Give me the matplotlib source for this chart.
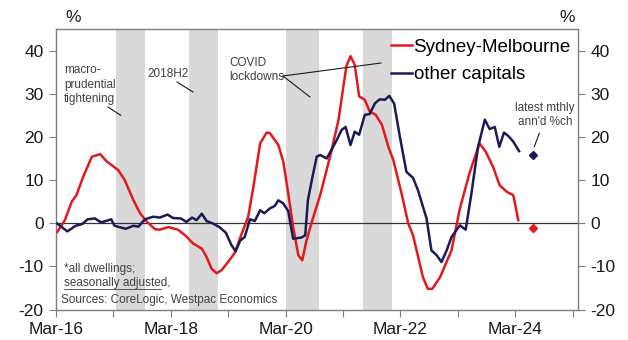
import matplotlib
matplotlib.use("Agg")
import matplotlib.pyplot as plt
import pandas as pd

plt.rcParams['font.family'] = ['Liberation Sans', 'DejaVu Sans']

# Annual house price growth, % (all dwellings, seasonally adjusted)
syd_mel_dates = [
    "2016-03-09", "2016-04-26", "2016-06-09", "2016-07-09", "2016-08-21", "2016-10-15",
    "2016-12-07", "2017-01-18", "2017-04-01", "2017-05-12", "2017-07-07", "2017-08-18",
    "2017-10-01", "2017-11-21", "2017-12-21", "2018-02-15", "2018-04-15", "2018-06-01",
    "2018-07-21", "2018-09-15", "2018-10-15", "2018-11-15", "2018-12-18", "2019-01-18",
    "2019-03-01", "2019-04-12", "2019-05-23", "2019-07-07", "2019-08-09", "2019-09-21",
    "2019-11-01", "2019-11-21", "2020-01-15", "2020-02-15", "2020-03-18", "2020-04-18",
    "2020-05-21", "2020-06-15", "2020-07-12", "2020-08-15", "2020-10-07", "2020-12-09",
    "2021-02-01", "2021-03-23", "2021-04-18", "2021-05-15", "2021-06-12", "2021-07-18",
    "2021-08-18", "2021-09-26", "2021-11-04", "2021-12-15", "2022-01-15", "2022-03-09",
    "2022-04-21", "2022-05-21", "2022-07-23", "2022-08-23", "2022-09-21", "2022-11-09",
    "2023-01-21", "2023-03-15", "2023-05-18", "2023-07-18", "2023-08-26", "2023-10-12",
    "2023-11-23", "2024-01-07", "2024-02-18", "2024-03-21",
]
syd_mel_values = [
    -2.0, 0.7, 5.0, 6.5, 10.8, 15.4,
    16.0, 14.3, 12.3, 10.0, 5.3, 2.3,
    0.3, -1.4, -1.5, -0.9, -1.5, -2.8,
    -4.7, -5.9, -7.8, -10.5, -11.6, -10.9,
    -9.0, -6.9, -2.8, 1.5, 8.4, 18.5,
    21.0, 20.9, 18.1, 14.3, 6.9, -0.9,
    -7.4, -8.6, -4.0, 0.3, 6.5, 15.4,
    24.0, 36.4, 38.7, 36.7, 29.4, 28.6,
    25.9, 25.1, 22.8, 17.7, 14.7, 6.9,
    -0.1, -2.8, -12.5, -15.2, -15.2, -12.5,
    -6.3, 3.4, 11.9, 18.5, 16.6, 13.1,
    8.8, 7.3, 6.5, 0.7,
]

other_dates = [
    "2016-03-09", "2016-05-12", "2016-07-04", "2016-08-15", "2016-09-18", "2016-11-04",
    "2016-12-07", "2016-12-26", "2017-02-15", "2017-03-09", "2017-05-18", "2017-07-07",
    "2017-08-07", "2017-09-18", "2017-11-09", "2017-12-21", "2018-02-09", "2018-03-15",
    "2018-05-04", "2018-06-09", "2018-07-15", "2018-08-12", "2018-09-15", "2018-10-15",
    "2018-11-21", "2019-01-04", "2019-02-15", "2019-03-21", "2019-04-18", "2019-05-18",
    "2019-06-15", "2019-07-18", "2019-08-18", "2019-09-21", "2019-10-18", "2019-11-21",
    "2019-12-23", "2020-01-15", "2020-02-15", "2020-03-18", "2020-04-18", "2020-06-12",
    "2020-07-04", "2020-07-21", "2020-08-15", "2020-09-15", "2020-10-07", "2020-11-18",
    "2020-12-18", "2021-01-21", "2021-02-20", "2021-03-18", "2021-04-18", "2021-05-15",
    "2021-06-12", "2021-07-18", "2021-08-18", "2021-09-21", "2021-10-21", "2021-11-23",
    "2021-12-21", "2022-01-21", "2022-02-26", "2022-04-09", "2022-05-21", "2022-06-21",
    "2022-08-15", "2022-09-15", "2022-10-18", "2022-11-18", "2022-12-21", "2023-01-21",
    "2023-03-15", "2023-04-21", "2023-05-26", "2023-07-09", "2023-08-21", "2023-09-21",
    "2023-10-23", "2023-11-21", "2023-12-21", "2024-01-18", "2024-02-18", "2024-03-26",
]
other_values = [
    -0.1, -1.9, -0.6, -0.2, 0.9, 1.1,
    0.3, 0.3, 0.9, -0.6, -1.3, -0.6,
    -0.8, 0.9, 1.5, 1.3, 2.0, 1.2,
    1.1, 0.3, 1.3, 0.7, 2.2, 0.5,
    0.0, -0.9, -2.2, -5.0, -6.5, -4.0,
    -3.2, 0.9, 0.5, 3.0, 2.3, 3.4,
    4.0, 5.3, 4.6, 2.8, -3.6, -3.3,
    -2.8, 5.3, 10.0, 15.4, 15.8, 15.0,
    17.0, 19.3, 21.6, 22.3, 18.1, 21.2,
    20.5, 25.1, 25.3, 27.8, 28.7, 28.6,
    29.5, 27.7, 20.1, 11.9, 10.5, 7.7,
    1.1, -6.3, -7.4, -9.0, -6.3, -3.2,
    -0.5, -1.5, 6.5, 17.7, 24.0, 21.8,
    22.3, 17.7, 21.0, 20.2, 18.9, 16.7,
]

# Latest monthly annualised change
latest_date = "2024-06-20"
latest_syd_mel = -1.0
latest_other = 15.7

# Shaded policy / lockdown episodes
episodes = [
    ("2017-03-15", "2017-09-18"),
    ("2018-06-25", "2018-12-25"),
    ("2020-03-01", "2020-10-01"),
    ("2021-07-06", "2021-11-08"),
    ("2021-11-11", "2022-01-06"),
]

tick_years = list(range(2016, 2026))
label_years = [2016, 2018, 2020, 2022, 2024]
y_ticks = [-20, -10, 0, 10, 20, 30, 40]

RED = "#e3191e"
NAVY = "#1b1b58"
GREY_TXT = "#404040"
SPINE = "#7f7f7f"

fig = plt.figure(figsize=(6.28, 3.40), dpi=100)
ax = fig.add_axes([0.0892, 0.0897, 0.8312, 0.825])

for start, end in episodes:
    ax.axvspan(pd.Timestamp(start), pd.Timestamp(end), color="#d9d9d9", lw=0, zorder=0)

ax.axhline(0, color="#333333", lw=0.9, zorder=1)

ax.plot(pd.to_datetime(syd_mel_dates), syd_mel_values, color=RED, lw=1.8,
        label="Sydney-Melbourne", zorder=3)
ax.plot(pd.to_datetime(other_dates), other_values, color=NAVY, lw=1.8,
        label="other capitals", zorder=3)
ax.plot([pd.Timestamp(latest_date)], [latest_syd_mel], marker="D", ms=4.5,
        color=RED, ls="none", zorder=4)
ax.plot([pd.Timestamp(latest_date)], [latest_other], marker="D", ms=4.5,
        color=NAVY, ls="none", zorder=4)

ax.set_xlim(pd.Timestamp("2016-03-01"), pd.Timestamp("2025-04-05"))
ax.set_ylim(-20, 45)

xt = [pd.Timestamp(f"{y}-03-01") for y in tick_years]
ax.set_xticks(xt)
ax.set_xticklabels([f"Mar-{str(y)[2:]}" if y in label_years else "" for y in tick_years])
ax.set_yticks(y_ticks)
ax.set_yticklabels([str(v) for v in y_ticks])

ax.tick_params(axis="x", direction="out", length=5, width=0.8, color=SPINE,
               labelsize=12.5, pad=4, labelcolor="#1a1a1a")
ax.tick_params(axis="y", direction="out", length=5, width=0.8, color=SPINE,
               labelsize=12.5, pad=4, labelcolor="#1a1a1a",
               right=True, labelright=True)
for s in ax.spines.values():
    s.set_color(SPINE)
    s.set_linewidth(1.0)

fig.text(73 / 628, 1 - 18 / 340, "%", fontsize=12.5, ha="center", va="center", color="#1a1a1a")
fig.text(567 / 628, 1 - 18 / 340, "%", fontsize=12.5, ha="center", va="center", color="#1a1a1a")

leg = ax.legend(loc="upper right", bbox_to_anchor=(0.997, 0.985), fontsize=13.5,
                handlelength=1.1, handletextpad=0.1, labelspacing=0.55,
                frameon=False, borderpad=0.3, borderaxespad=0.0)

def px(x, y):
    return (x / 628, 1 - y / 340)

ann = dict(fontsize=8.5, color=GREY_TXT, transform=fig.transFigure)
fig.text(*px(64, 64), "macro-\nprudential\ntightening", va="top", ha="left", linespacing=1.3, **ann)
fig.text(*px(147, 68), "2018H2", va="top", ha="left", **ann)
fig.text(*px(229, 57), "COVID\nlockdowns", va="top", ha="left", linespacing=1.25, **ann)
fig.text(*px(545, 102), "latest mthly\nann'd %ch", va="top", ha="center", linespacing=1.25, **ann)
fig.text(*px(64, 263), "*all dwellings;\nseasonally adjusted,", va="top", ha="left", linespacing=1.25, **ann)
fig.text(*px(61, 294), "Sources: CoreLogic, Westpac Economics", va="top", ha="left", **ann)

# underline for "seasonally adjusted"
fig.add_artist(plt.Line2D([64 / 628, 161 / 628], [1 - 289 / 340] * 2, color=GREY_TXT, lw=0.6))

def pointer(x0, y0, x1, y1):
    fig.add_artist(plt.Line2D([x0 / 628, x1 / 628], [1 - y0 / 340, 1 - y1 / 340],
                              color="#1a1a1a", lw=0.8))

pointer(108, 107, 120.7, 115.3)
pointer(177, 82, 193, 92)
pointer(283, 76, 310, 97)
pointer(283, 76, 381, 63)
pointer(539.3, 133.3, 534.3, 146.7)

fig.savefig("out.png", dpi=100)
